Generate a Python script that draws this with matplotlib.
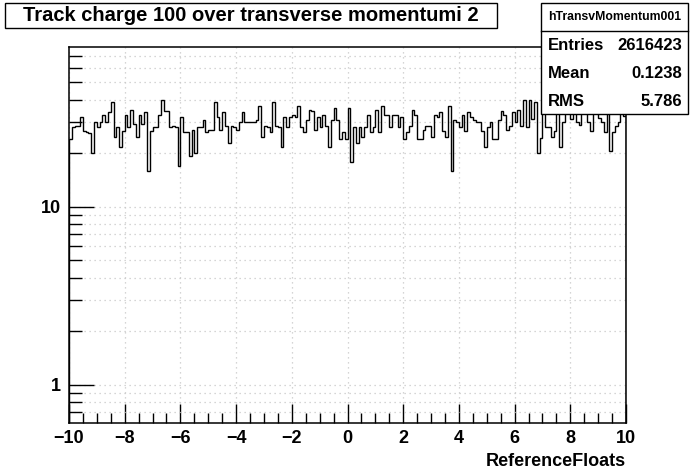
"""ROOT-style histogram: track charge over transverse momentum (log y)."""
import numpy as np
import matplotlib
matplotlib.use("Agg")
import matplotlib.pyplot as plt
from matplotlib.patches import Rectangle
from matplotlib.lines import Line2D
from matplotlib.ticker import FixedLocator, NullFormatter, FixedFormatter

plt.rcParams["font.family"] = ["Liberation Sans", "DejaVu Sans"]

# bin contents, 200 bins from -10 to 10
counts_a = [24.1, 28.0, 28.6, 28.6, 31.9, 26.8, 26.2, 26.0, 20.0, 29.9,
            28.0, 29.9, 32.6, 29.9, 34.0, 38.7, 24.8, 28.0, 21.8, 26.8,
            32.6, 28.0, 35.1, 29.3, 24.8, 32.6, 29.3, 34.0, 15.8, 26.8,
            28.0, 28.0, 32.6, 39.7, 34.3, 34.3, 28.0, 28.6, 28.0, 17.0]
counts_b = [31.9, 26.2, 26.2, 19.3, 26.9, 20.0, 28.0, 28.0, 30.7, 26.2,
            26.9, 26.9, 38.7, 31.9, 26.9, 34.0, 28.6, 22.8, 28.6, 28.0,
            26.9, 29.9, 34.0, 29.9, 29.9, 29.9, 29.9, 30.7, 36.8, 24.8,
            28.6, 28.0, 26.2, 38.7, 28.6, 28.0, 21.8, 31.9, 28.0, 31.9,
            32.6, 31.9]
counts_c = [36.8, 28.0, 26.2, 30.7, 35.1, 34.3, 26.9, 31.9, 28.0, 32.6,
            28.6, 21.8, 30.7, 35.9, 30.7, 24.1, 26.2, 24.1, 35.9, 17.9,
            28.0, 22.8, 28.0, 24.8, 28.0, 32.6, 26.2, 28.0, 35.1, 26.2,
            36.8, 32.6, 32.6, 28.0, 32.6, 32.6, 28.0, 31.9, 24.1, 26.2,
            28.6]
counts_d = [35.1, 32.6, 24.1, 24.1, 26.9, 28.6, 28.6, 24.8, 32.6, 31.9,
            34.0, 26.8, 24.8, 36.8, 15.8, 30.7, 29.9, 28.0, 32.6, 26.8,
            34.0, 31.9, 30.7, 29.9, 29.9, 26.8, 21.8, 28.0, 29.9, 24.1,
            24.1, 30.7, 34.3, 32.6, 26.9, 28.6, 34.0, 29.9, 35.1, 28.6,
            39.7]
counts_e = [28.0, 39.7, 31.0, 38.7, 20.0, 24.4, 35.1,
            28.0, 28.0, 24.8, 26.8, 34.0, 21.8, 29.9, 34.5, 35.0, 31.0,
            34.0, 29.9, 28.9, 35.5, 34.0, 29.9, 26.8, 34.5, 33.5, 31.5,
            29.9, 26.2, 35.0, 20.5, 26.2, 28.6, 29.9, 34.0, 32.5]
counts = counts_a + counts_b + counts_c + counts_d + counts_e

x_range = (-10, 10)
x_ticks = [-10, -8, -6, -4, -2, 0, 2, 4, 6, 8, 10]
y_major = [1, 10]
y_minor = [0.7, 0.8, 0.9, 2, 3, 4, 5, 6, 7, 8, 9, 20, 30, 40, 50, 60, 70]

title = "Track charge 100 over transverse momentumi 2"
hist_name = "hTransvMomentum001"
stats = [("Entries", "2616423"), ("Mean", "0.1238"), ("RMS", "5.786")]

W, H = 696, 472
fig = plt.figure(figsize=(W / 100, H / 100), dpi=100)


def fx(px):
    return px / W


def fy(py):
    return 1 - py / H


ax = fig.add_axes([fx(69), fy(423), fx(626) - fx(69), fy(47) - fy(423)])
edges = np.linspace(x_range[0], x_range[1], len(counts) + 1)
ax.stairs(counts, edges, baseline=1e-3, color="black", lw=1.0, zorder=3)

ax.set_yscale("log")
ax.set_xlim(*x_range)
ax.set_ylim(0.61, 79)

ax.xaxis.set_major_locator(FixedLocator(x_ticks))
ax.xaxis.set_minor_locator(FixedLocator(np.arange(-10, 10.01, 0.5)))
ax.set_xticklabels([f"{t}".replace("-", "\u2212") for t in x_ticks])
ax.yaxis.set_major_locator(FixedLocator(y_major))
ax.yaxis.set_major_formatter(FixedFormatter(["1", "10"]))
ax.yaxis.set_minor_locator(FixedLocator(y_minor))
ax.yaxis.set_minor_formatter(NullFormatter())

ax.tick_params(axis="x", which="major", direction="in", length=14, width=1,
               labelsize=13, pad=5, top=False)
ax.tick_params(axis="x", which="minor", direction="in", length=7, width=1,
               top=False)
ax.tick_params(axis="y", which="major", direction="in", length=18, width=1,
               labelsize=13, pad=6, right=False)
ax.tick_params(axis="y", which="minor", direction="in", length=9, width=1,
               right=False)
for lab in ax.get_xticklabels() + ax.get_yticklabels():
    lab.set_fontweight("bold")

ax.grid(True, axis="x", which="major", color="#c8c8c8", ls=(0, (1, 3)), lw=0.9)
ax.grid(True, axis="y", which="both", color="#c8c8c8", ls=(0, (1, 3)), lw=0.9)
ax.set_axisbelow(True)
for sp in ax.spines.values():
    sp.set_linewidth(1.1)

fig.text(fx(626), fy(461), "ReferenceFloats", ha="right", va="center",
         fontsize=13, fontweight="bold")

# title box
fig.add_artist(Rectangle((fx(5), fy(28)), fx(497) - fx(5), fy(3) - fy(28),
                         transform=fig.transFigure, facecolor="white",
                         edgecolor="black", lw=1, zorder=5))
fig.text(fx(251), fy(15.5), title, ha="center", va="center", fontsize=14.5,
         fontweight="bold", zorder=6)

# stats box
fig.add_artist(Rectangle((fx(541), fy(114)), fx(688) - fx(541), fy(3) - fy(114),
                         transform=fig.transFigure, facecolor="white",
                         edgecolor="black", lw=1, zorder=5))
fig.add_artist(Line2D([fx(541), fx(688)], [fy(31), fy(31)],
                      transform=fig.transFigure, color="black", lw=1, zorder=6))
fig.text(fx(614.5), fy(17), hist_name, ha="center", va="center", fontsize=8.8,
         fontweight="bold", zorder=6)
for i, (name, val) in enumerate(stats):
    yy = fy(45 + i * 28)
    fig.text(fx(548), yy, name, ha="left", va="center", fontsize=12,
             fontweight="bold", zorder=6)
    fig.text(fx(682), yy, val, ha="right", va="center", fontsize=12,
             fontweight="bold", zorder=6)

fig.savefig("out.png", dpi=100)
